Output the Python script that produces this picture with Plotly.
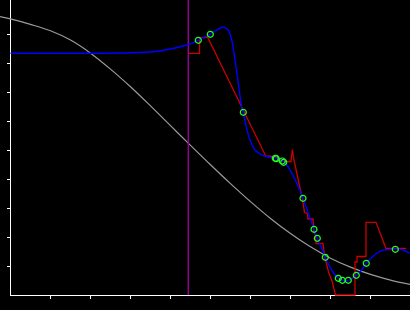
import plotly.graph_objects as go

# ---- data (in axis units) ----
cursor_x = 4.445

gray_x = [-0.2625, 0.0, 0.5, 1.0, 1.5, 2.0, 2.5, 3.0, 3.5, 4.0, 4.5, 5.0, 5.5, 6.0,
          6.5, 7.0, 7.5, 8.0, 8.5, 9.0, 9.5, 10.0]
gray_y = [9.60, 9.52, 9.33, 9.11, 8.79, 8.34, 7.79, 7.18, 6.52, 5.84, 5.16, 4.49, 3.84, 3.22,
          2.64, 2.12, 1.66, 1.27, 0.96, 0.71, 0.515, 0.36]

blue_x = [0.0, 3.07, 3.57, 3.905, 4.2375, 4.53, 4.695, 4.8625, 4.995, 5.155, 5.305, 5.405,
          5.445, 5.53, 5.6125, 5.695, 5.78, 5.82, 5.905, 5.9875, 6.1125, 6.28, 6.4875, 6.62,
          6.82, 6.9875, 7.155, 7.3125, 7.445, 7.5875, 7.67, 7.78, 7.87, 8.03, 8.195, 8.295,
          8.445, 8.645, 8.78, 8.895, 9.07, 9.28, 9.62, 9.82, 9.9875]
blue_y = [8.334, 8.355, 8.39, 8.459, 8.562, 8.679, 8.783, 8.907, 8.99, 9.138, 9.231, 9.183,
          9.138, 8.793, 8.103, 7.30, 6.493, 6.30, 5.748, 5.345, 5.0, 4.828, 4.748, 4.714,
          4.61, 4.31, 3.852, 3.334, 2.817, 2.266, 1.955, 1.61, 1.30, 0.862, 0.576, 0.507,
          0.507, 0.679, 0.862, 1.093, 1.345, 1.528, 1.576, 1.552, 1.438]

red_x = [4.445, 4.725, 4.725, 4.925, 6.38, 6.6125, 6.825, 7.0125, 7.045, 7.0875, 7.2375,
         7.305, 7.35, 7.425, 7.4375, 7.5625, 7.58, 7.625, 7.6375, 7.8125, 7.85, 7.95, 8.0375,
         8.125, 8.6125, 8.6125, 8.6625, 8.6625, 8.8875, 8.8875, 9.1375, 9.3875, 9.8875]
red_y = [8.334, 8.334, 8.862, 8.897, 4.793, 4.769, 4.603, 4.603, 5.017, 4.655, 3.69,
         3.276, 2.845, 2.81, 2.621, 2.621, 2.183, 2.069, 1.776, 1.776, 1.345, 0.793, 0.483,
         0.0, 0.0, 1.138, 1.138, 1.328, 1.328, 2.507, 2.507, 1.603, 1.603]

pts_x = [4.695, 4.995, 5.820, 6.620, 6.645, 6.795, 6.830, 7.312, 7.588, 7.670, 7.870,
         8.195, 8.295, 8.445, 8.645, 8.895, 9.620]
pts_y = [8.783, 8.990, 6.300, 4.714, 4.700, 4.621, 4.576, 3.334, 2.266, 1.955, 1.300,
         0.576, 0.507, 0.507, 0.679, 1.093, 1.576]

tick_vals = [1, 2, 3, 4, 5, 6, 7, 8, 9]

# ---- layout geometry (pixels) ----
W, H = 410, 310
X0_PX, PX_PER_X = 10.5, 40.0
Y0_PX, PX_PER_Y = 295.0, 29.0

def xr(px):
    return (px - X0_PX) / PX_PER_X

def yr(py):
    return (Y0_PX - py) / PX_PER_Y

fig = go.Figure()

# empty trace to anchor the axes subplot
fig.add_trace(go.Scatter(x=[None], y=[None], xaxis="x", yaxis="y", mode="lines",
                         showlegend=False, hoverinfo="skip"))

fig.add_trace(go.Scatter(x=gray_x, y=gray_y, mode="lines", xaxis="x2", yaxis="y2",
                         line=dict(color="#9a9a9a", width=1.2, shape="spline"),
                         showlegend=False, hoverinfo="skip"))
fig.add_trace(go.Scatter(x=[cursor_x, cursor_x], y=[0, yr(0)], mode="lines", xaxis="x2", yaxis="y2",
                         line=dict(color="#990099", width=1.4),
                         showlegend=False, hoverinfo="skip"))
fig.add_trace(go.Scatter(x=red_x, y=red_y, mode="lines", xaxis="x2", yaxis="y2",
                         line=dict(color="#cc0000", width=1.3),
                         showlegend=False, hoverinfo="skip"))
fig.add_trace(go.Scatter(x=blue_x, y=blue_y, mode="lines", xaxis="x2", yaxis="y2",
                         line=dict(color="#0000ff", width=1.4, shape="spline", smoothing=1),
                         showlegend=False, hoverinfo="skip"))
fig.add_trace(go.Scatter(x=pts_x, y=pts_y, mode="markers", xaxis="x2", yaxis="y2",
                         marker=dict(symbol="circle-open", size=6, color="#22ff22",
                                     line=dict(color="#22ff22", width=1.2)),
                         showlegend=False, hoverinfo="skip"))

ax_common = dict(showline=True, linecolor="white", linewidth=1, ticks="outside",
                 ticklen=3, tickwidth=1, tickcolor="white", tickvals=tick_vals,
                 showticklabels=False, showgrid=False, zeroline=False, fixedrange=True)

fig.update_layout(
    width=W, height=H,
    margin=dict(l=0, r=0, t=0, b=0),
    paper_bgcolor="black", plot_bgcolor="rgba(0,0,0,0)",
    xaxis=dict(domain=[(X0_PX + 0.5) / W, 1], range=[xr(X0_PX + 0.5), xr(W)], anchor="y", **ax_common),
    yaxis=dict(domain=[(H - Y0_PX) / H, 1], range=[0, yr(0)], anchor="x", **ax_common),
    xaxis2=dict(domain=[0, 1], range=[xr(0), xr(W)], anchor="y2", visible=False, fixedrange=True),
    yaxis2=dict(domain=[0, 1], range=[yr(H), yr(0)], anchor="x2", visible=False, fixedrange=True),
)

fig.write_html("out.html", config={"displayModeBar": False})
